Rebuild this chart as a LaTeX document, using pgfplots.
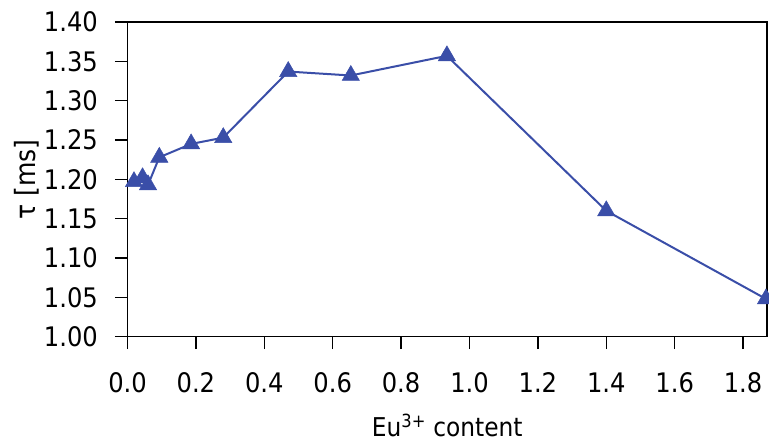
\documentclass[border=0pt]{standalone}
\usepackage{fontspec}
\setmainfont{DejaVu Sans Condensed}
\usepackage{pgfplots}
\pgfplotsset{compat=1.18}
\definecolor{lineblue}{RGB}{58,78,168}
\begin{document}
\begin{tikzpicture}[x=1bp,y=1bp]
\begin{axis}[
  scale only axis, width=639.5bp, height=314.7bp,
  xmin=0, xmax=1.87, ymin=1.0, ymax=1.40,
  xtick={0,0.2,0.4,0.6,0.8,1.0,1.2,1.4,1.6,1.8},
  xticklabels={0.0,0.2,0.4,0.6,0.8,1.0,1.2,1.4,1.6,1.8},
  ytick={1.00,1.05,1.10,1.15,1.20,1.25,1.30,1.35,1.40},
  yticklabels={1.00,1.05,1.10,1.15,1.20,1.25,1.30,1.35,1.40},
  tick align=outside, xtick pos=bottom, ytick pos=left,
  major tick length=12.5bp,
  every tick/.style={black, line width=1.5bp},
  axis line style={black, line width=1.5bp},
  tick label style={font=\fontsize{27}{32}\selectfont, inner sep=0pt},
  xticklabel style={anchor=base, yshift=-43.5bp},
  yticklabel style={anchor=east, xshift=-17bp},
  xlabel={Eu\textsuperscript{3+} content},
  ylabel={τ [ms]},
  label style={font=\fontsize{26}{30}\selectfont, inner sep=0pt},
  xlabel style={at={(axis description cs:0.5,0)}, anchor=base, yshift=-99.5bp},
  ylabel style={at={(axis description cs:0,0.5)}, anchor=center, yshift=101bp,
    font=\fontsize{28}{32}\selectfont},
]
\addplot[color=lineblue, line width=2bp, mark=triangle*, mark size=10bp,
  mark options={fill=lineblue, draw=lineblue, line width=0.5bp}] coordinates {
  (0.019,1.197) (0.044,1.202) (0.060,1.193) (0.093,1.228) (0.186,1.245)
  (0.280,1.253) (0.470,1.337) (0.653,1.332) (0.934,1.357) (1.400,1.160) (1.867,1.048)
};
\end{axis}
\pgfresetboundingbox
\path[use as bounding box] (-127.5,-104.3) rectangle (641.5,336.7);
\end{tikzpicture}
\end{document}
